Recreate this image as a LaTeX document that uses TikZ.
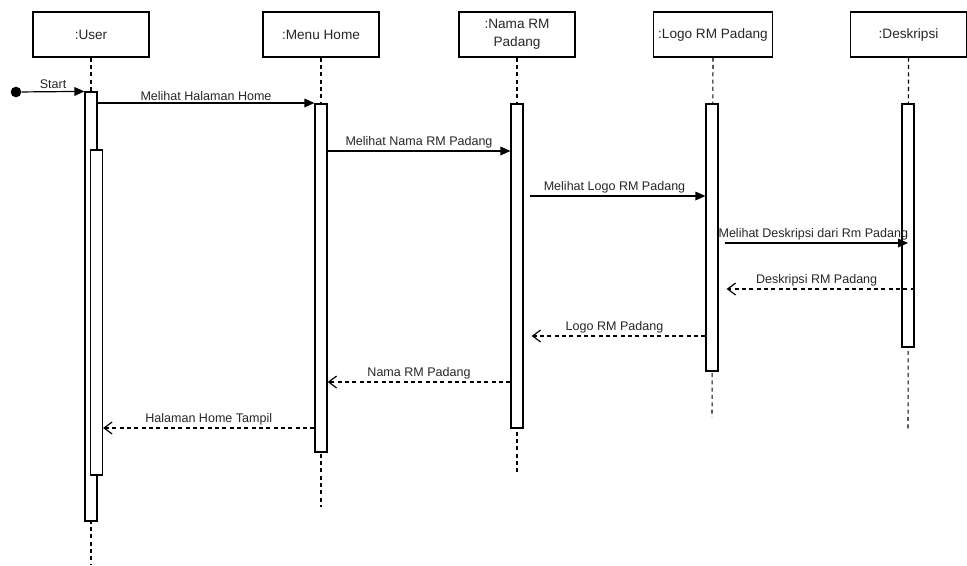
\documentclass[tikz,border=0pt]{standalone}
\usepackage{fontspec}
\setmainfont{Liberation Sans}
\usepackage{tikz}
\usetikzlibrary{arrows.meta}
\tikzset{
  head/.style={draw,line width=0.9pt,minimum width=87pt,minimum height=33.75pt,align=center,font=\fontsize{10.2}{13.5}\selectfont,text=black!85},
  actbar/.style={draw,fill=white,line width=0.9pt,minimum width=9pt,inner sep=0pt},
  life/.style={line width=0.8pt,dash pattern=on 3pt off 2.5pt},
  call/.style={line width=0.9pt,-{Triangle[length=7.5pt,width=6.5pt]}},
  reply/.style={line width=0.9pt,dash pattern=on 3pt off 2.5pt,-{Straight Barb[length=6pt,width=9pt]}},
  lbl/.style={above,inner sep=1.5pt,font=\fontsize{9.4}{11}\selectfont,text=black!85}
}
\newcommand{\actbox}[4]{\node[actbar,minimum height={(#4-#3)*0.75pt}] (#1) at (#2,{(#3+#4)/2}) {};}

\begin{document}
\begin{tikzpicture}[x=0.75pt,y=-0.75pt]
\useasboundingbox (0,0) rectangle (967,565);

\node[head] (user) at (91,34.5) {:User};
\node[head] (menu) at (321,34.5) {:Menu Home};
\node[head] (nama) at (517,34.5) {:Nama RM\\Padang};
\node[head] (logo) at (713,34.5) {:Logo RM Padang};
\node[head] (desk) at (908.5,34.5) {:Deskripsi};

\coordinate (uend) at (91,565);
\coordinate (mend) at (321,507);
\coordinate (nend) at (517,472);
\coordinate (lend) at (712,417);
\coordinate (dend) at (908,430);

\draw[life] (user.south) -- (uend);
\draw[life] (menu.south) -- (mend);
\draw[life] (nama.south) -- (nend);
\draw[life] (logo.south) -- (lend);
\draw[life] (desk.south) -- (dend);

\actbox{ua}{91}{92}{521}
\actbox{ub}{96.5}{150}{475}
\actbox{mb}{321}{104}{452}
\actbox{nb}{517}{104}{428}
\actbox{lb}{712}{104}{371}
\actbox{db}{908}{104}{347}

\coordinate (t1) at (0,103);
\coordinate (t2) at (0,151);
\coordinate (t3) at (0,196);
\coordinate (t4) at (0,243);
\coordinate (t5) at (0,289);
\coordinate (t6) at (0,336);
\coordinate (t7) at (0,382);
\coordinate (t8) at (0,428);

\node[circle,fill,inner sep=0pt,minimum size=8pt] (start) at (16,92) {};
\draw[call] (start) -- (ua.north west) node[lbl,midway] {Start};

\draw[call] (ua.east |- t1) -- (mb.west |- t1) node[lbl,midway] {Melihat Halaman Home};
\draw[call] (mb.east |- t2) -- (nb.west |- t2) node[lbl,midway] {Melihat Nama RM Padang};
\draw[call,shorten <=4.5pt] (nb.east |- t3) -- (lb.west |- t3) node[lbl,midway] {Melihat Logo RM Padang};
\draw[call,shorten <=4.5pt] (lb.east |- t4) -- (db.center |- t4) node[lbl,midway] {Melihat Deskripsi dari Rm Padang};
\draw[reply,shorten >=6pt] (db.east |- t5) -- (lb.east |- t5) node[lbl,midway] {Deskripsi RM Padang};
\draw[reply,shorten >=6pt] (lb.west |- t6) -- (nb.east |- t6) node[lbl,midway] {Logo RM Padang};
\draw[reply] (nb.west |- t7) -- (mb.east |- t7) node[lbl,midway] {Nama RM Padang};
\draw[reply] (mb.west |- t8) -- (ub.east |- t8) node[lbl,midway] {Halaman Home Tampil};
\end{tikzpicture}
\end{document}
